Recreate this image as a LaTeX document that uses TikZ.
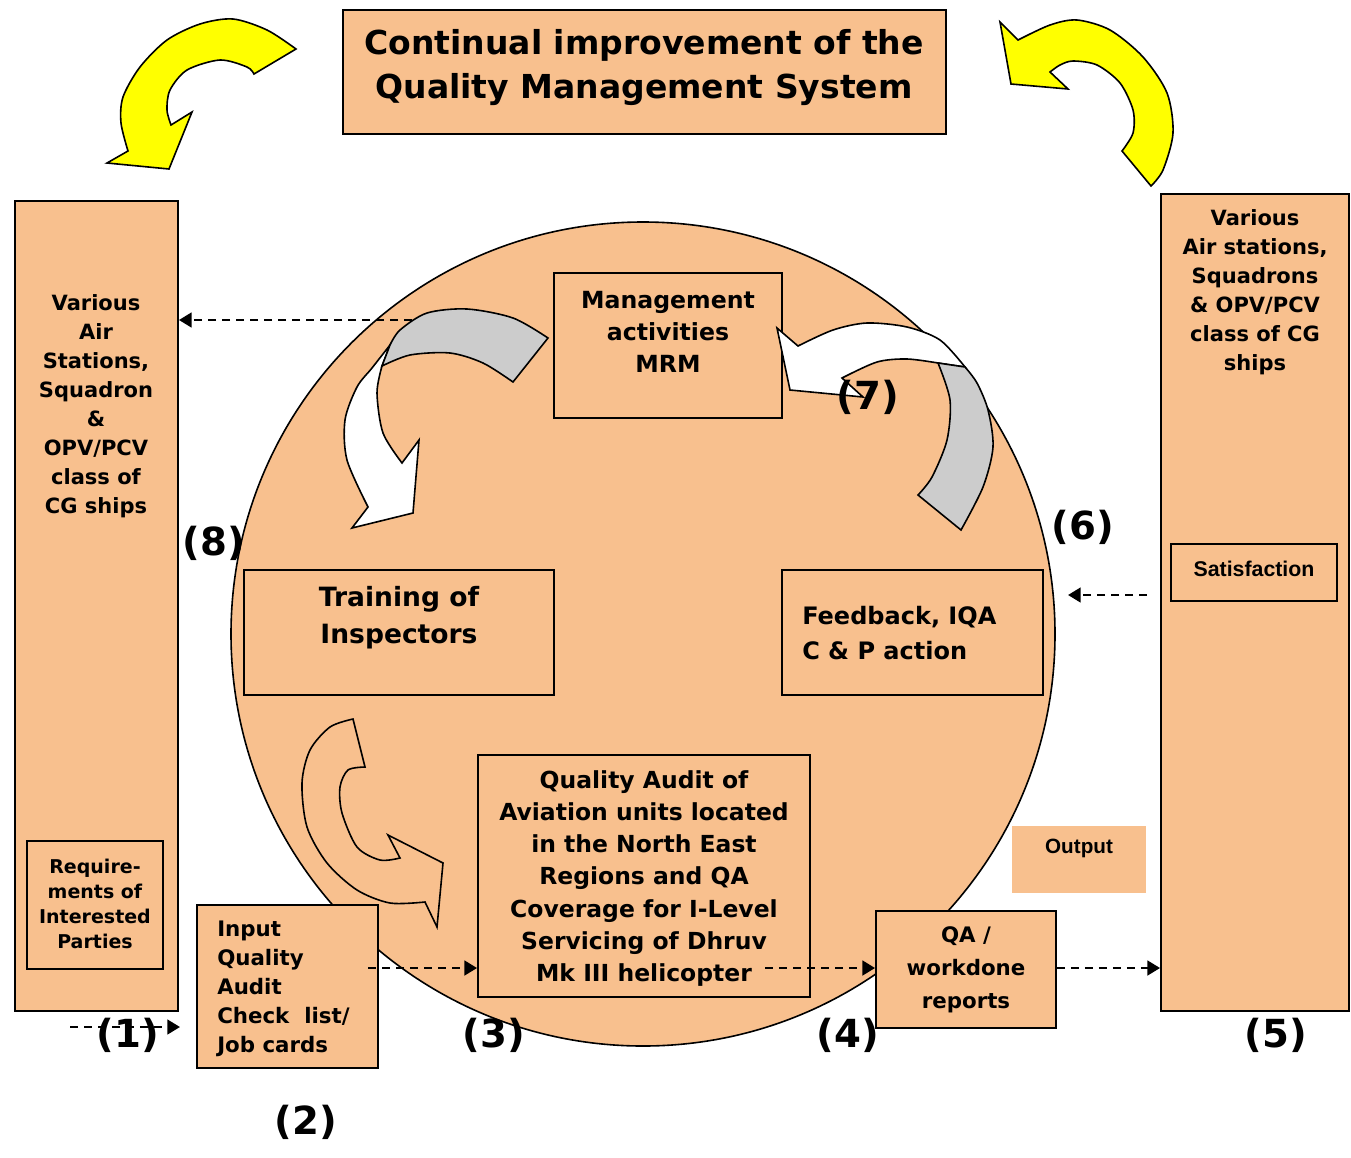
\documentclass[tikz,border=0pt]{standalone}
\usepackage{fontspec}
\setmainfont{DejaVu Sans}
\newfontfamily\arialf{Liberation Sans}
\usetikzlibrary{arrows.meta}
\definecolor{peach}{RGB}{248,192,142}
\definecolor{ygold}{RGB}{255,255,0}
\definecolor{gband}{RGB}{204,204,204}
\begin{document}
\begin{tikzpicture}[x=0.75pt,y=-0.75pt,
 box/.style={draw=black, fill=peach, line width=1.4pt, inner sep=0pt},
 sz/.style 2 args={minimum width=#1*0.75pt, minimum height=#2*0.75pt},
 shp/.style={draw=black, line width=1.2pt, line join=miter},
 dsh/.style={line width=1.9pt, dash pattern=on 6pt off 4.5pt, -{Triangle[length=9.5pt,width=11pt]}},
 num/.style={font=\fontsize{29}{32}\selectfont\bfseries, inner sep=0pt},
 txt/.style={inner sep=0pt, align=center},
 fs/.style 2 args={font=\fontsize{#1}{#2}\selectfont\bfseries},
]
\useasboundingbox (0,0) rectangle (1351,1157);

% yellow curved arrows
\draw[shp, fill=ygold] (296,49) -- plot[smooth] coordinates {(296,49)(267,30)(233,19)(200,24)(167,40)(140,67)(123,97)(121,123)(128,151)} -- (107,163) -- (169,169) -- (192,112) -- (171,125) -- plot[smooth] coordinates {(171,125)(167,110)(170,90)(187,70)(220,60)(247,67)(254,74)} -- cycle;
\draw[shp, fill=ygold] (1000,22) -- (1018,40) -- plot[smooth] coordinates {(1018,40)(1050,25)(1077,20)(1110,30)(1143,57)(1167,93)(1173,133)(1163,170)(1151,186)} -- (1122,151) -- plot[smooth] coordinates {(1122,151)(1133,133)(1133,110)(1120,83)(1097,65)(1073,61)(1060,65)(1050,72)} -- (1068,89) -- (1011,84) -- cycle;

% title
\node[box, sz={603}{124}] (title) at (644.5,72) {};
\node[txt, fs={24.75}{33}] (titletxt) at (644,68) {Continual improvement of the\\Quality Management System};

% side boxes
\node[box, sz={163}{810}] (leftbox) at (96.5,606) {};
\node[txt, fs={15.75}{21.75}] (lefttxt) at (96,406) {Various\\Air\\Stations,\\Squadron\\\&\\OPV/PCV\\class of\\CG ships};
\node[box, sz={136}{128}] (req) at (95,905) {};
\node[txt, fs={14.25}{18.75}] (reqtxt) at (95,904) {Require-\\ments of\\Interested\\Parties};

\node[box, sz={188}{817}] (rightbox) at (1255,602.5) {};
\node[txt, fs={15.75}{21.75}] (righttxt) at (1255,292) {Various\\Air stations,\\Squadrons\\\& OPV/PCV\\class of CG\\ships};
\node[box, sz={166}{57}] (satisf) at (1254,572.5) {};
\node[txt, font=\arialf\bfseries\fontsize{16}{19}\selectfont] (satisftxt) at (1254,569) {Satisfaction};

% output
\node[fill=peach, inner sep=0pt, sz={134}{67}] (output) at (1079,859.5) {};
\node[txt, font=\arialf\bfseries\fontsize{15.5}{18}\selectfont] (outputtxt) at (1079,848) {Output};

% circle
\node[circle, draw=black, line width=1.2pt, fill=peach, minimum size=824*0.75pt, inner sep=0pt] (circ) at (643,634) {};

% management box
\node[box, sz={228}{145}] (mgmt) at (668,345.5) {};
\node[txt, fs={17.7}{24}] (mgmttxt) at (668,332) {Management\\activities\\MRM};

% dashed arrow to left box (8)
\coordinate (s8) at (440,320);
\draw[dsh] (s8) -- (leftbox.east |- s8);

% gray / white arrow top left
\draw[shp, fill=white] (390,345) -- plot[smooth] coordinates {(390,345)(372,368)(357,387)(345,420)(347,460)(368,507)} -- (352,528) -- (413,513) -- (419,440) -- (402,463) -- plot[smooth] coordinates {(402,463)(383,433)(377,393)(382,366)} -- cycle;
\draw[shp, fill=gband] (548,338) -- plot[smooth] coordinates {(548,338)(513,318)(467,309)(427,313)(400,330)(390,345)} -- (382,366) -- plot[smooth] coordinates {(382,366)(410,355)(450,353)(483,363)(513,382)} -- cycle;

% gray / white arrow top right
\draw[shp, fill=white] (777,328) -- (798,346) -- plot[smooth] coordinates {(798,346)(833,330)(867,323)(907,327)(940,340)(965,367)} -- (938,363) -- plot[smooth] coordinates {(938,363)(907,359)(877,362)(842,378)} -- (863,397) -- (790,390) -- cycle;
\draw[shp, fill=gband] (938,363) -- plot[smooth] coordinates {(938,363)(950,400)(947,440)(932,477)(918,495)} -- (961,530) -- plot[smooth] coordinates {(961,530)(983,487)(993,447)(988,410)(977,383)(965,367)} -- cycle;

% orange curved arrow bottom left
\draw[shp, fill=peach] (353,719) -- plot[smooth] coordinates {(353,719)(330,727)(310,750)(302,783)(307,827)(327,863)(357,890)(390,903)(425,902)} -- (437,927) -- (443,863) -- (388,835) -- (400,858) -- plot[smooth] coordinates {(400,858)(380,860)(357,847)(342,813)(340,787)(348,770)(365,767)} -- cycle;

% inner boxes
\node[box, sz={310}{125}] (training) at (399,632.5) {};
\node[txt, fs={19.9}{27.75}] (trainingtxt) at (399,617.5) {Training of\\Inspectors};
\node[box, sz={261}{125}] (feedback) at (912.5,632.5) {};
\node[txt, align=left, anchor=west, fs={18}{26.25}] (feedbacktxt) at (802,633.5) {Feedback, IQA\\C \& P action};
\node[box, sz={332}{242}] (quality) at (644,876) {};
\node[txt, fs={17.6}{24.15}] (qualitytxt) at (644,878.5) {Quality Audit of\\Aviation units located\\in the North East\\Regions and QA\\Coverage for I-Level\\Servicing of Dhruv\\Mk III helicopter};
\node[box, sz={181}{163}] (input) at (287.5,986.5) {};
\node[txt, align=left, anchor=west, fs={16}{21.75}] (inputtxt) at (217,989) {Input\\Quality\\Audit\\Check\ \ list/\\Job cards};
\node[box, sz={180}{117}] (qa) at (966,969.5) {};
\node[txt, fs={16}{24.75}] (qatxt) at (966,970) {QA /\\workdone\\reports};

% dashed connectors
\coordinate (s1) at (70,1027);
\coordinate (e1) at (180,1027);
\draw[dsh] (s1) -- (e1);
\coordinate (s3) at (368,968);
\draw[dsh] (s3) -- (quality.west |- s3);
\coordinate (s4) at (765,968);
\draw[dsh] (s4) -- (qa.west |- s4);
\draw[dsh] (qa.east |- s4) -- (rightbox.west |- s4);
\coordinate (s6) at (1147,595);
\coordinate (e6) at (1068,595);
\draw[dsh] (s6) -- (e6);

% numbers
\node[num] (n1) at (128,1035) {(1)};
\node[num] (n2) at (306,1122) {(2)};
\node[num] (n3) at (494,1035) {(3)};
\node[num] (n4) at (848,1035) {(4)};
\node[num] (n5) at (1276,1035) {(5)};
\node[num] (n6) at (1083,527) {(6)};
\node[num] (n7) at (868,397) {(7)};
\node[num] (n8) at (214,543) {(8)};
\end{tikzpicture}
\end{document}
